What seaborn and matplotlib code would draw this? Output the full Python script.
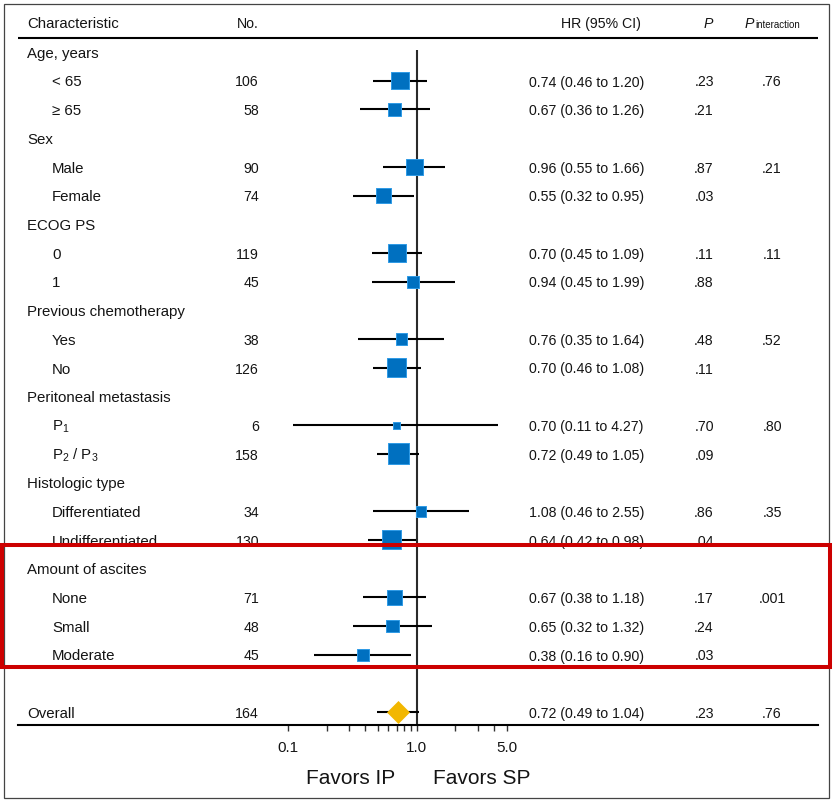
import pandas as pd
import matplotlib.pyplot as plt
import matplotlib.transforms as mtransforms
from matplotlib.patches import Rectangle
import seaborn as sns
import numpy as np

# Налаштування
sns.set_theme(style="white")
plt.rcParams['font.family'] = ['Liberation Sans', 'DejaVu Sans']
plt.rcParams['mathtext.fontset'] = 'custom'
plt.rcParams['mathtext.rm'] = 'Liberation Sans'
plt.rcParams['mathtext.it'] = 'Liberation Sans:italic'
plt.rcParams['mathtext.default'] = 'regular'

BLUE = "#0070C0"
BLUE_EDGE = "#2f9be6"
GOLD = "#F2B700"
TXT = "#141414"

# ---- дані ----
labels = ["Age, years", "< 65", "\u2265 65",
          "Sex", "Male", "Female",
          "ECOG PS", "0", "1",
          "Previous chemotherapy", "Yes", "No",
          "Peritoneal metastasis", "P$_1$", "P$_2$ / P$_3$",
          "Histologic type", "Differentiated", "Undifferentiated",
          "Amount of ascites", "None", "Small", "Moderate",
          "", "Overall"]
is_group = [True, False, False, True, False, False, True, False, False,
            True, False, False, True, False, False, True, False, False,
            True, False, False, False, True, True]
n_pts = [None, 106, 58, None, 90, 74, None, 119, 45, None, 38, 126,
         None, 6, 158, None, 34, 130, None, 71, 48, 45, None, 164]
hr = [None, 0.74, 0.67, None, 0.96, 0.55, None, 0.70, 0.94, None, 0.76, 0.70,
      None, 0.70, 0.72, None, 1.08, 0.64, None, 0.67, 0.65, 0.38, None, 0.72]
ci_lo = [None, 0.46, 0.36, None, 0.55, 0.32, None, 0.45, 0.45, None, 0.35, 0.46,
         None, 0.11, 0.49, None, 0.46, 0.42, None, 0.38, 0.32, 0.16, None, 0.49]
ci_hi = [None, 1.20, 1.26, None, 1.66, 0.95, None, 1.09, 1.99, None, 1.64, 1.08,
         None, 4.27, 1.05, None, 2.55, 0.98, None, 1.18, 1.32, 0.90, None, 1.04]
p_val = ["", ".23", ".21", "", ".87", ".03", "", ".11", ".88", "", ".48", ".11",
         "", ".70", ".09", "", ".86", ".04", "", ".17", ".24", ".03", "", ".23"]
p_int = ["", ".76", "", "", ".21", "", "", ".11", "", "", ".52", "",
         "", ".80", "", "", ".35", "", "", ".001", "", "", "", ".76"]
x_major = [0.1, 1.0, 5.0]
x_major_labels = ["0.1", "1.0", "5.0"]
x_minor = [0.2, 0.3, 0.4, 0.5, 0.6, 0.7, 0.8, 0.9, 2, 3, 4]

df = pd.DataFrame({"label": labels, "group": is_group, "n": n_pts, "hr": hr,
                   "lo": ci_lo, "hi": ci_hi, "p": p_val, "pint": p_int})
df["row"] = np.arange(len(df))
df["overall"] = df["label"] == "Overall"

# ---- геометрія (пікселі) ----
W, H = 834, 802
ROW0, STEP = 52, 28.7
AX_L, AX_R, AX_T, AX_B = 18, 818, 10, 725
X01, DEC = 288.0, 128.7          # піксель для 0.1 та пікселів на декаду

fig = plt.figure(figsize=(W / 100, H / 100), dpi=100)
ax = fig.add_axes([AX_L / W, 1 - AX_B / H, (AX_R - AX_L) / W, (AX_B - AX_T) / H])
ax.set_xscale('log')
ax.set_xlim(10 ** (-1 - (X01 - AX_L) / DEC), 10 ** (-1 + (AX_R - X01) / DEC))
ax.set_ylim((AX_B - ROW0) / STEP, (AX_T - ROW0) / STEP)

# довірчі інтервали
est = df.dropna(subset=["hr"])
ax.hlines(est["row"], est["lo"], est["hi"], color="black", lw=1.5, zorder=2)
# лінія HR = 1
ax.vlines(1.0, (50 - ROW0) / STEP, (AX_B - ROW0) / STEP, color="#2a2a2a", lw=1.5, zorder=1)

sub = est[~est["overall"]]
sns.scatterplot(data=sub, x="hr", y="row", size="n", sizes=(25, 228), size_norm=(6, 158),
                marker="s", color=BLUE, edgecolor=BLUE_EDGE, linewidth=0.7,
                legend=False, ax=ax, zorder=3)
sns.scatterplot(data=est[est["overall"]], x="hr", y="row", marker="D", s=125,
                color=GOLD, edgecolor=GOLD, linewidth=0.5, legend=False, ax=ax, zorder=3)

# осі
for s in ["top", "left", "right"]:
    ax.spines[s].set_visible(False)
ax.spines["bottom"].set_linewidth(1.5)
ax.spines["bottom"].set_color("black")
ax.set_yticks([])
ax.set_xticks(x_major)
ax.set_xticklabels(x_major_labels, fontsize=11, color=TXT)
ax.set_xticks(x_minor, minor=True)
ax.xaxis.set_minor_formatter(plt.NullFormatter())
ax.tick_params(axis="x", which="both", direction="out", length=4.3, width=1.0,
               color="#333333", pad=7.5, bottom=True)
ax.set_xlabel("")
ax.set_ylabel("")
ax.axhline((37.5 - ROW0) / STEP, color="black", lw=1.5)

# текстові колонки
tr = mtransforms.blended_transform_factory(fig.transFigure, ax.transData)
FS = 10.2       # цифри
FS_LAB = 10.8   # назви рядків
BASE = 5.8 / STEP


def put(px, row, s, ha="left", **kw):
    ax.text(px / W, row + BASE, s, transform=tr, ha=ha, va="baseline",
            fontsize=kw.pop("fontsize", FS), color=TXT, clip_on=False, **kw)


hdr = (21.8 - ROW0) / STEP
put(27, hdr, "Characteristic", fontsize=FS_LAB)
put(259, hdr, "No.", ha="right")
put(641, hdr, "HR (95% CI)", ha="right")
put(708.5, hdr, "P", ha="center", style="italic")
put(745, hdr, "P", style="italic")
put(755, hdr, "interaction", fontsize=7.0)

for _, r in df.iterrows():
    x_lab = 27 if (r["group"] or r["overall"]) else 52
    put(x_lab, r["row"], r["label"], fontsize=FS_LAB)
    if pd.notna(r["n"]):
        put(259, r["row"], f"{int(r['n'])}", ha="right")
        put(529, r["row"], f"{r['hr']:.2f} ({r['lo']:.2f} to {r['hi']:.2f})")
        put(704, r["row"], r["p"], ha="center")
        put(772, r["row"], r["pint"], ha="center")

# підписи під віссю
fig.text(395 / W, 1 - 784 / H, "Favors IP", ha="right", va="baseline",
         fontsize=15, color=TXT)
fig.text(433 / W, 1 - 784 / H, "Favors SP", ha="left", va="baseline",
         fontsize=15, color=TXT)

# рамки
fig.add_artist(Rectangle((3.5 / W, 1 - 798 / H), 825.5 / W, 794.5 / H,
                         transform=fig.transFigure, fill=False, ec="#444444", lw=0.9))
fig.add_artist(Rectangle((2 / W, 1 - 667 / H), 828 / W, 122.3 / H,
                         transform=fig.transFigure, fill=False, ec="#CC0000", lw=2.9, zorder=10))

plt.savefig("out.png", dpi=100)
